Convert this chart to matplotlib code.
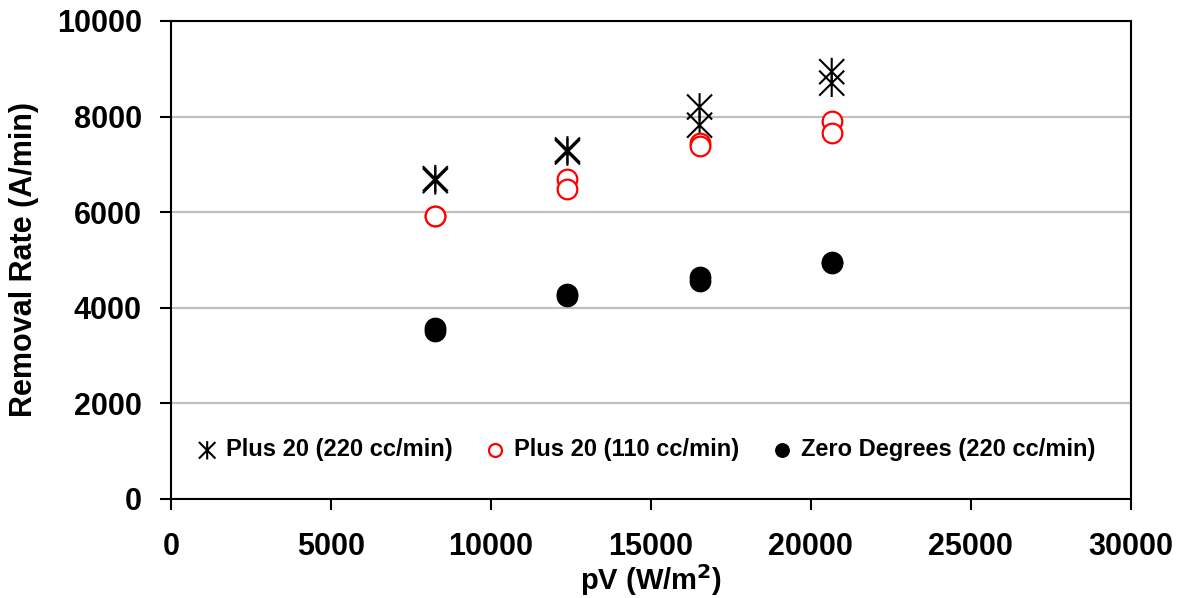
import numpy as np
import matplotlib.pyplot as plt
from matplotlib.path import Path

plt.rcParams['font.family'] = ['Liberation Sans', 'DejaVu Sans']
plt.rcParams['font.weight'] = 'bold'

# --- data ---
pv = [8260, 8260, 12390, 12390, 16520, 16520, 20650, 20650]
plus20_220 = [6700, 6660, 7300, 7260, 8200, 7820, 8940, 8700]
plus20_110 = [5920, 5930, 6700, 6480, 7440, 7380, 7910, 7660]
zero_220 = [3580, 3520, 4290, 4250, 4640, 4570, 4960, 4930]

labels = ['Plus 20 (220 cc/min)', 'Plus 20 (110 cc/min)', 'Zero Degrees (220 cc/min)']
x_ticks = [0, 5000, 10000, 15000, 20000, 25000, 30000]
y_ticks = [0, 2000, 4000, 6000, 8000, 10000]

# asterisk: vertical line plus an X
star = Path([(0, -1), (0, 1), (-0.9, -0.9), (0.9, 0.9), (-0.9, 0.9), (0.9, -0.9)],
            [Path.MOVETO, Path.LINETO] * 3)

fig = plt.figure(figsize=(11.77, 5.98), dpi=100)
ax = fig.add_axes([0.1453, 0.1656, 0.8155, 0.7993])

ax.scatter(pv, plus20_220, marker=star, s=400, facecolors='none',
           edgecolors='black', linewidths=1.5, label=labels[0], zorder=3)
ax.scatter(pv, plus20_110, marker='o', s=200, facecolors='white',
           edgecolors='red', linewidths=1.6, label=labels[1], zorder=4)
ax.scatter(pv, zero_220, marker='o', s=215, color='black', label=labels[2], zorder=3)

ax.set_xlim(0, 30000)
ax.set_ylim(0, 10000)
ax.set_xticks(x_ticks)
ax.set_yticks(y_ticks)
ax.yaxis.grid(True, color='#c0c0c0', linewidth=1.6)
ax.set_axisbelow(True)

ax.tick_params(axis='both', direction='out', length=8, width=1.5, labelsize=22)
ax.tick_params(axis='x', pad=16)
ax.tick_params(axis='y', pad=13)
for sp in ax.spines.values():
    sp.set_linewidth(1.5)
    sp.set_color('black')

ax.set_xlabel('pV (W/m$^\\mathbf{2}$)', fontsize=21, fontweight='bold')
ax.set_ylabel('Removal Rate (A/min)', fontsize=22, fontweight='bold')
ax.xaxis.set_label_coords(0.5, -0.132)
ax.yaxis.set_label_coords(-0.138, 0.5)

leg = ax.legend(loc='center', bbox_to_anchor=(0.494, 0.1025), ncol=3, frameon=False,
                fontsize=17, handlelength=1.0, handletextpad=0.3, columnspacing=1.3,
                markerscale=0.66, borderaxespad=0)

fig.savefig('out.png', dpi=100)
